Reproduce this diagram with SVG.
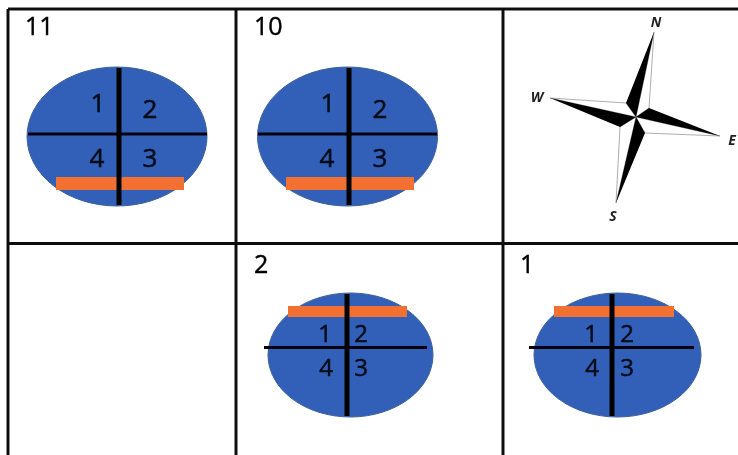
<svg xmlns="http://www.w3.org/2000/svg" width="738" height="455" viewBox="0 0 738 455">
<defs>
<filter id="soft" x="-5%" y="-5%" width="110%" height="110%"><feGaussianBlur stdDeviation="0.45"/></filter>
<filter id="softer" x="-5%" y="-5%" width="110%" height="110%"><feGaussianBlur stdDeviation="0.7"/></filter>
</defs>
<style>
.grid{stroke:#111;stroke-width:3;fill:none}
.disc{fill:#3361b8;stroke:#3d6094;stroke-width:1}
.bar{fill:#f26f30}
.v{stroke:#000;stroke-width:5}
.h{stroke:#050510;stroke-width:3}
text{font-family:"Open Sans","DejaVu Sans",sans-serif;fill:#000}
.t{font-size:25px;stroke:#000;stroke-width:.4}
.n{font-size:26px;text-anchor:middle;fill:#060a18;stroke:#060a18;stroke-width:.5}
.s{font-size:24px;text-anchor:middle;fill:#060a18;stroke:#060a18;stroke-width:.5}
.c{font-size:14px;font-weight:700;font-style:italic;text-anchor:middle;fill:#222}
.w{fill:#fff;stroke:#999;stroke-width:.8}
</style>
<rect width="738" height="455" fill="#fff"/>
<g filter="url(#soft)">
<g id="grid">
<path class="grid" d="M8 9H738M8 243.500H738M8 9V455M236 9V455M503 9V455"/>
</g>
<g id="cell-11">
<text class="t" x="25" y="35">11</text>
<ellipse class="disc" cx="117" cy="136.500" rx="90" ry="69.500"/>
<rect class="bar" x="56" y="177" width="128" height="13"/>
<line class="h" x1="28" y1="134" x2="207" y2="134"/>
<line class="v" x1="119" y1="68" x2="119" y2="205"/>
<text class="n" x="98" y="112">1</text><text class="n" x="150" y="118">2</text><text class="n" x="97" y="167">4</text><text class="n" x="150" y="167">3</text>
</g>
<g id="cell-10">
<text class="t" x="254" y="35">10</text>
<ellipse class="disc" cx="347.500" cy="136.500" rx="90" ry="69.500"/>
<rect class="bar" x="286" y="177" width="128" height="13"/>
<line class="h" x1="258" y1="134" x2="437" y2="134"/>
<line class="v" x1="349" y1="68" x2="349" y2="205"/>
<text class="n" x="328" y="112">1</text><text class="n" x="380" y="118">2</text><text class="n" x="327" y="167">4</text><text class="n" x="380" y="167">3</text>
</g>
<g id="cell-2">
<text class="t" x="254" y="273">2</text>
<ellipse class="disc" cx="350.500" cy="355" rx="82.500" ry="62"/>
<rect class="bar" x="288" y="306" width="119" height="11"/>
<line class="h" x1="264" y1="347.500" x2="427" y2="347.500"/>
<line class="v" x1="347" y1="294" x2="347" y2="416"/>
<text class="s" x="325" y="342">1</text><text class="s" x="361" y="342">2</text><text class="s" x="326" y="376">4</text><text class="s" x="361" y="376">3</text>
</g>
<g id="cell-1">
<text class="t" x="520" y="273">1</text>
<ellipse class="disc" cx="617.500" cy="355" rx="83.500" ry="62"/>
<rect class="bar" x="554" y="306" width="120" height="11"/>
<line class="h" x1="529" y1="347.500" x2="694" y2="347.500"/>
<line class="v" x1="612" y1="294" x2="612" y2="416"/>
<text class="s" x="591" y="342">1</text><text class="s" x="627" y="342">2</text><text class="s" x="592" y="376">4</text><text class="s" x="627" y="376">3</text>
</g>
</g>
<g id="compass" filter="url(#softer)">
<path class="w" d="M654 32L649 108L636 117ZM720 136L645 133L636 117ZM616 203L620 127L636 117ZM550 98L626 103L636 117Z"/>
<path d="M654 32L626 103L636 117ZM720 136L649 108L636 117ZM616 203L645 133L636 117ZM550 98L620 127L636 117Z" fill="#000"/>
<text class="c" x="656" y="27">N</text>
<text class="c" x="537" y="102">W</text>
<text class="c" x="732" y="145">E</text>
<text class="c" x="613" y="221">S</text>
</g>
</svg>
